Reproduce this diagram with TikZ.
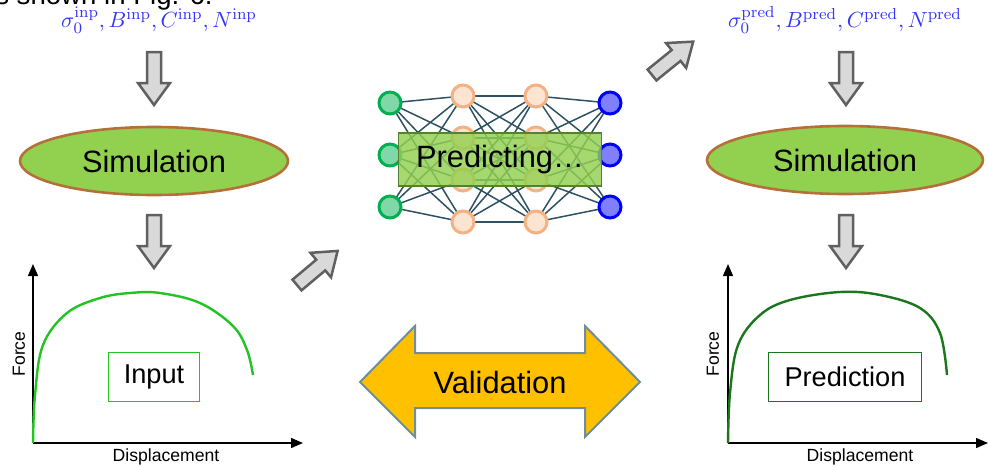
\documentclass[tikz,border=0pt]{standalone}
\usepackage[no-math]{fontspec}
\setmainfont{Liberation Sans}
\usetikzlibrary{arrows.meta,shapes.geometric,backgrounds}
\definecolor{simfill}{HTML}{92D050}
\definecolor{simdraw}{HTML}{B5703A}
\definecolor{arrfill}{HTML}{D9D9D9}
\definecolor{arrdraw}{HTML}{606060}
\definecolor{valfill}{HTML}{FFC000}
\definecolor{valdraw}{HTML}{6F8E9C}
\definecolor{parblue}{HTML}{3535F5}
\definecolor{inpgreen}{HTML}{22C322}
\definecolor{predgreen}{HTML}{1C761C}
\definecolor{nnedge}{HTML}{2E5264}
\definecolor{ingreen}{HTML}{00B050}
\definecolor{hidorange}{HTML}{F4B183}
\definecolor{hidfill}{HTML}{FCE4D2}
\definecolor{boxgreen}{HTML}{548235}
\tikzset{
  simbox/.style={ellipse, draw=simdraw, line width=1.3pt, fill=simfill,
    minimum width=134pt, minimum height=34pt, inner sep=0pt,
    font=\fontsize{15.4}{18}\selectfont},
  params/.style={text=parblue, font=\fontsize{11}{13}\selectfont, inner sep=0pt},
  blockarrow/.style={draw=arrdraw, fill=arrfill, line width=1.25pt, line join=miter},
  axis/.style={line width=0.7pt, -{Triangle[length=6pt,width=5pt]}},
  axislabel/.style={font=\fontsize{8.8}{10}\selectfont, inner sep=0pt},
  labelbox/.style={draw, line width=0.8pt, minimum width=45.5pt, minimum height=24.5pt,
    inner sep=0pt, font=\fontsize{13.6}{16}\selectfont},
  curve/.style={line width=1.2pt, smooth, tension=0.6},
  neuron/.style={circle, line width=1.5pt, minimum size=11pt, inner sep=0pt},
  inneuron/.style={neuron, draw=ingreen, fill=ingreen!50},
  hidneuron/.style={neuron, draw=hidorange, fill=hidfill},
  outneuron/.style={neuron, draw=blue, fill=blue!50},
  nnline/.style={draw=nnedge, line width=0.75pt},
  downarrow/.pic={\draw[blockarrow] (-7,0) -- (7,0) -- (7,31) -- (16,31) -- (0,53)
      -- (-16,31) -- (-7,31) -- cycle;},
}
\begin{document}
\begin{tikzpicture}[x=0.5pt,y=-0.5pt]
\useasboundingbox (0,0) rectangle (988,466);

% cut-off caption text at the very top
\node[anchor=base east, inner sep=0pt, font=\fontsize{13.8}{16}\selectfont] (caption) at (213,4) {is shown in Fig. 6.};

% ---------- left column ----------
\node[params] (par1) at (159,20) {$\sigma_0^{\mathrm{inp}}, B^{\mathrm{inp}}, C^{\mathrm{inp}}, N^{\mathrm{inp}}$};
\pic at (154,52) {downarrow};
\node[simbox] (sim1) at (154,161) {Simulation};
\pic at (154,215) {downarrow};

\coordinate (o1) at (33,443);
\coordinate (ytip1) at (33,264);
\coordinate (xtip1) at (303,443);
\draw[axis] (o1) -- (ytip1);
\draw[axis] (o1) -- (xtip1);
\draw[curve, draw=inpgreen] plot coordinates {(33,443) (35,395) (43,345) (67,313) (100,298) (130,293) (160,293) (200,303) (233,326) (247,350) (253,375)};
\node[labelbox, draw=inpgreen] (inp) at (154,377) {Input};
\node[axislabel, rotate=90] (f1) at (19,354) {Force};
\node[axislabel] (d1) at (166,457) {Displacement};

% ---------- right column ----------
\node[params] (par2) at (845,20) {$\sigma_0^{\mathrm{pred}}, B^{\mathrm{pred}}, C^{\mathrm{pred}}, N^{\mathrm{pred}}$};
\pic at (846,52) {downarrow};
\node[simbox, minimum width=138pt] (sim2) at (845,160) {Simulation};
\pic at (846,215) {downarrow};

\coordinate (o2) at (728,443);
\coordinate (ytip2) at (728,264);
\coordinate (xtip2) at (988,443);
\draw[axis] (o2) -- (ytip2);
\draw[axis] (o2) -- (xtip2);
\draw[curve, draw=predgreen] plot coordinates {(728,443) (730,393) (738,345) (760,315) (790,300) (840,292) (880,295) (920,308) (940,333) (947,375)};
\node[labelbox, draw=predgreen, minimum width=76.5pt] (pred) at (845,377) {Prediction};
\node[axislabel, rotate=90] (f2) at (713,354) {Force};
\node[axislabel] (d2) at (860,457) {Displacement};

% ---------- diagonal arrows ----------
\pic[rotate=130] at (297,285) {downarrow};
\pic[rotate=129] at (652,75) {downarrow};

% ---------- neural network ----------
\foreach \i/\y in {1/103,2/155,3/207} {
  \node[inneuron] (a\i) at (390,\y) {};
  \node[outneuron] (d\i) at (610,\y) {};
}
\foreach \i/\y in {1/96,2/138,3/180,4/222} {
  \node[hidneuron] (b\i) at (463,\y) {};
  \node[hidneuron] (c\i) at (536,\y) {};
}
\begin{pgfonlayer}{background}
\foreach \i in {1,2,3} \foreach \j in {1,2,3,4} {
  \draw[nnline] (a\i.center) -- (b\j.center);
  \draw[nnline] (c\j.center) -- (d\i.center);
}
\foreach \i in {1,2,3,4} \foreach \j in {1,2,3,4} {
  \draw[nnline] (b\i.center) -- (c\j.center);
}
\end{pgfonlayer}
\node[draw=boxgreen, line width=0.8pt, fill=simfill, fill opacity=0.82, text opacity=1,
  minimum width=101.5pt, minimum height=26.5pt, inner sep=0pt,
  font=\fontsize{15.4}{18}\selectfont] (predict) at (500,159.5) {Predicting…};

% ---------- validation arrow ----------
\draw[draw=valdraw, fill=valfill, line width=1pt, line join=miter]
  (360,382) -- (415,326) -- (415,353) -- (585,353) -- (585,326) -- (640,382)
  -- (585,437) -- (585,408) -- (415,408) -- (415,437) -- cycle;
\node[font=\fontsize{15.4}{18}\selectfont, inner sep=0pt] (val) at (500,382) {Validation};
\end{tikzpicture}
\end{document}
